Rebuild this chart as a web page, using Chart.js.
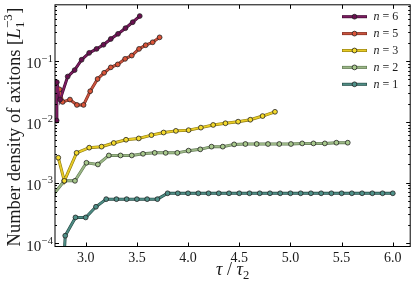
<!DOCTYPE html>
<html>
<head>
<meta charset="utf-8">
<script src="https://cdn.jsdelivr.net/npm/chart.js@4.4.1/dist/chart.umd.min.js"></script>
<style>
  html, body { margin: 0; padding: 0; background: #fff; }
</style>
</head>
<body>
<canvas id="chart" width="415" height="285"></canvas>
<script>
// series (tau / tau_2, number density)
const x6 = [2.716, 2.718, 2.750, 2.824, 2.892, 2.960, 3.034, 3.106, 3.174, 3.245, 3.316, 3.388, 3.459, 3.528];
const y6 = [0.0105, 0.045, 0.0233, 0.0558, 0.0712, 0.1054, 0.1369, 0.159, 0.1863, 0.2317, 0.2817, 0.3488, 0.4374, 0.5532];

const x5 = [2.744, 2.775, 2.846, 2.914, 2.979, 3.044, 3.116, 3.180, 3.245, 3.313, 3.385, 3.450, 3.521, 3.586, 3.654, 3.722];
const y5 = [0.0343, 0.0213, 0.0233, 0.0190, 0.0190, 0.0320, 0.0508, 0.0643, 0.0790, 0.0884, 0.109, 0.1235, 0.159, 0.183, 0.2045, 0.2465];

const x3 = [2.732, 2.791, 2.911, 3.034, 3.155, 3.274, 3.394, 3.518, 3.642, 3.761, 3.881, 4.005, 4.125, 4.245, 4.365, 4.489, 4.608, 4.728, 4.849];
const y3 = [0.00257, 0.00107, 0.00309, 0.00376, 0.00391, 0.00449, 0.00508, 0.00534, 0.00605, 0.00668, 0.00711, 0.0073, 0.00804, 0.0089, 0.00949, 0.01008, 0.01085, 0.01247, 0.01465];

const x2 = [2.681, 2.791, 2.895, 3.007, 3.119, 3.226, 3.340, 3.450, 3.560, 3.674, 3.781, 3.895, 4.005, 4.119, 4.229, 4.339, 4.450, 4.560, 4.670, 4.781, 4.891, 5.005, 5.115, 5.225, 5.336, 5.449, 5.560];
const y2 = [0.000625, 0.00107, 0.00107, 0.00212, 0.00199, 0.0028, 0.0028, 0.0028, 0.00298, 0.00309, 0.00309, 0.00309, 0.00336, 0.00353, 0.00391, 0.00391, 0.00426, 0.00432, 0.00432, 0.00432, 0.00432, 0.00432, 0.00442, 0.00442, 0.00442, 0.00454, 0.00454];

const x1 = [2.7, 2.8, 2.9, 3.0, 3.1, 3.2, 3.3, 3.4, 3.5, 3.6, 3.7, 3.8, 3.9, 4.0, 4.1, 4.2, 4.3, 4.4, 4.5, 4.6, 4.7, 4.8, 4.9, 5.0, 5.1, 5.2, 5.3, 5.4, 5.5, 5.6, 5.7, 5.8, 5.9, 6.0];
const y1 = [1e-7, 0.0001335, 0.000267, 0.000267, 0.0004, 0.000534, 0.000534, 0.000534, 0.000534, 0.000534, 0.000534,
            0.000667, 0.000667, 0.000667, 0.000667, 0.000667, 0.000667, 0.000667, 0.000667, 0.000667, 0.000667, 0.000667, 0.000667,
            0.000667, 0.000667, 0.000667, 0.000667, 0.000667, 0.000667, 0.000667, 0.000667, 0.000667, 0.000667, 0.000667];

const labels = ['n = 6', 'n = 5', 'n = 3', 'n = 2', 'n = 1'];
const xTicks = [3.0, 3.5, 4.0, 4.5, 5.0, 5.5, 6.0];
const yTicks = [1e-4, 1e-3, 1e-2, 1e-1];
const yExp = ['\u22124', '\u22123', '\u22122', '\u22121'];

const lineCols = ['#7c1c60', '#c8543f', '#e8cb26', '#9bb686', '#4f8c84'];
const edgeCols = ['#3e0a30', '#7d2a1e', '#8c7a12', '#5f7852', '#254a45'];
const fillCols = ['#6a0f50', '#dc5438', '#f4da2c', '#a8c98c', '#4f9189'];

const xs = [x6, x5, x3, x2, x1];
const ys = [y6, y5, y3, y2, y1];

const serif = '"Liberation Serif", "DejaVu Serif", serif';
const ink = '#1a1a1a';

const datasets = [];
xs.forEach((xv, k) => {
  const pts = xv.map((v, i) => ({ x: v, y: ys[k][i] }));
  datasets.push({
    label: labels[k], data: pts, order: 0,
    borderColor: lineCols[k], borderWidth: 1.8, tension: 0,
    pointRadius: 2.4, pointBackgroundColor: fillCols[k], pointBorderColor: '#222', pointBorderWidth: 0.8
  });
  datasets.push({
    label: labels[k] + ' edge', data: pts, order: 1,
    borderColor: edgeCols[k], borderWidth: 3, tension: 0, pointRadius: 0
  });
});

const frame = {
  id: 'frame',
  afterDraw(chart) {
    const { ctx, chartArea: a, scales: { x, y } } = chart;
    ctx.save();
    ctx.strokeStyle = '#000';
    ctx.lineWidth = 1;
    ctx.strokeRect(a.left, a.top, a.right - a.left, a.bottom - a.top);

    ctx.beginPath();
    xTicks.forEach(v => {
      const px = Math.round(x.getPixelForValue(v)) + 0.5;
      ctx.moveTo(px, a.bottom); ctx.lineTo(px, a.bottom - 4);
      ctx.moveTo(px, a.top); ctx.lineTo(px, a.top + 4);
    });
    for (let e = -5; e <= 0; e++) {
      for (let m = 1; m < 10; m++) {
        const v = m * Math.pow(10, e);
        if (v < y.min || v > y.max) continue;
        const py = Math.round(y.getPixelForValue(v)) + 0.5;
        const len = m === 1 ? 4 : 2;
        ctx.moveTo(a.left, py); ctx.lineTo(a.left + len, py);
        ctx.moveTo(a.right, py); ctx.lineTo(a.right - len, py);
      }
    }
    ctx.stroke();

    // y tick labels 10^k
    ctx.fillStyle = ink;
    ctx.textAlign = 'right';
    ctx.textBaseline = 'alphabetic';
    yTicks.forEach((v, i) => {
      const py = y.getPixelForValue(v);
      ctx.font = '10.5px ' + serif;
      const sw = ctx.measureText(yExp[i]).width;
      ctx.fillText(yExp[i], a.left - 2, py + 0.5);
      ctx.font = '15px ' + serif;
      ctx.fillText('10', a.left - 2.5 - sw, py + 7.3);
    });

    // y title
    ctx.save();
    ctx.translate(20, 127);
    ctx.rotate(-Math.PI / 2);
    ctx.textAlign = 'left';
    const fs = 18.5;
    ctx.font = fs + 'px ' + serif;
    const t1 = 'Number density of axitons [';
    const w1 = ctx.measureText(t1).width;
    ctx.font = 'italic ' + fs + 'px ' + serif;
    const wL = ctx.measureText('L').width;
    ctx.font = (fs * 0.7) + 'px ' + serif;
    const wSub = ctx.measureText('1').width;
    const wSup = ctx.measureText('\u22123').width;
    ctx.font = fs + 'px ' + serif;
    const wB = ctx.measureText(']').width;
    const total = w1 + wL + Math.max(wSub, wSup) + 1 + wB;
    let cx = -total / 2;
    ctx.fillText(t1, cx, 0); cx += w1;
    ctx.font = 'italic ' + fs + 'px ' + serif;
    ctx.fillText('L', cx, 0); cx += wL;
    ctx.font = (fs * 0.7) + 'px ' + serif;
    ctx.fillText('1', cx + 0.5, 4);
    ctx.fillText('\u22123', cx + 0.5, -8);
    cx += Math.max(wSub, wSup) + 1;
    ctx.font = fs + 'px ' + serif;
    ctx.fillText(']', cx, 0);
    ctx.restore();

    // x title  tau / tau_2
    ctx.textAlign = 'left';
    const xf = 18;
    ctx.font = 'italic ' + xf + 'px ' + serif;
    const wt = ctx.measureText('\u03c4').width;
    ctx.font = xf + 'px ' + serif;
    const ws = ctx.measureText(' / ').width;
    ctx.font = (xf * 0.7) + 'px ' + serif;
    const w2 = ctx.measureText('2').width;
    let tx = (a.left + a.right) / 2 - (wt * 2 + ws + w2) / 2;
    const tb = 275;
    ctx.font = 'italic ' + xf + 'px ' + serif;
    ctx.fillText('\u03c4', tx, tb); tx += wt;
    ctx.font = xf + 'px ' + serif;
    ctx.fillText(' / ', tx, tb); tx += ws;
    ctx.font = 'italic ' + xf + 'px ' + serif;
    ctx.fillText('\u03c4', tx, tb); tx += wt;
    ctx.font = (xf * 0.7) + 'px ' + serif;
    ctx.fillText('2', tx, tb + 3.5);

    // legend
    ctx.textBaseline = 'middle';
    labels.forEach((lab, i) => {
      const ly = 16.7 + i * 16.9;
      ctx.lineCap = 'butt';
      ctx.beginPath(); ctx.moveTo(342, ly); ctx.lineTo(367, ly);
      ctx.lineWidth = 3; ctx.strokeStyle = edgeCols[i]; ctx.stroke();
      ctx.beginPath(); ctx.moveTo(342.6, ly); ctx.lineTo(366.4, ly);
      ctx.lineWidth = 1.8; ctx.strokeStyle = lineCols[i]; ctx.stroke();
      ctx.beginPath(); ctx.arc(354.5, ly, 2.4, 0, Math.PI * 2);
      ctx.fillStyle = fillCols[i]; ctx.fill();
      ctx.lineWidth = 0.8; ctx.strokeStyle = '#222'; ctx.stroke();
      ctx.fillStyle = ink;
      ctx.font = 'italic 12px ' + serif;
      ctx.fillText(lab.charAt(0), 373.5, ly + 0.5);
      const wn = ctx.measureText(lab.charAt(0)).width;
      ctx.font = '12px ' + serif;
      ctx.fillText(lab.slice(1), 373.5 + wn, ly + 0.5);
    });
    ctx.restore();
  }
};

new Chart(document.getElementById('chart'), {
  type: 'line',
  data: { datasets },
  options: {
    responsive: false,
    animation: false,
    devicePixelRatio: 1,
    layout: { padding: { top: 2.5, right: 3, left: 0, bottom: 0 } },
    plugins: { legend: { display: false }, tooltip: { enabled: false } },
    scales: {
      x: {
        type: 'linear', min: 2.7, max: 6.17,
        afterBuildTicks: s => { s.ticks = xTicks.map(v => ({ value: v })); },
        afterFit: s => { s.height = 38.5; },
        grid: { display: false, drawTicks: false },
        border: { display: false },
        ticks: {
          autoSkip: false, maxRotation: 0, padding: 3, color: ink,
          font: { family: serif, size: 14 },
          callback: v => v.toFixed(1)
        }
      },
      y: {
        type: 'logarithmic', min: 8.87e-5, max: 0.847,
        afterFit: s => { s.width = 55; },
        grid: { display: false, drawTicks: false },
        border: { display: false },
        ticks: { display: false }
      }
    }
  },
  plugins: [frame]
});
</script>
</body>
</html>
